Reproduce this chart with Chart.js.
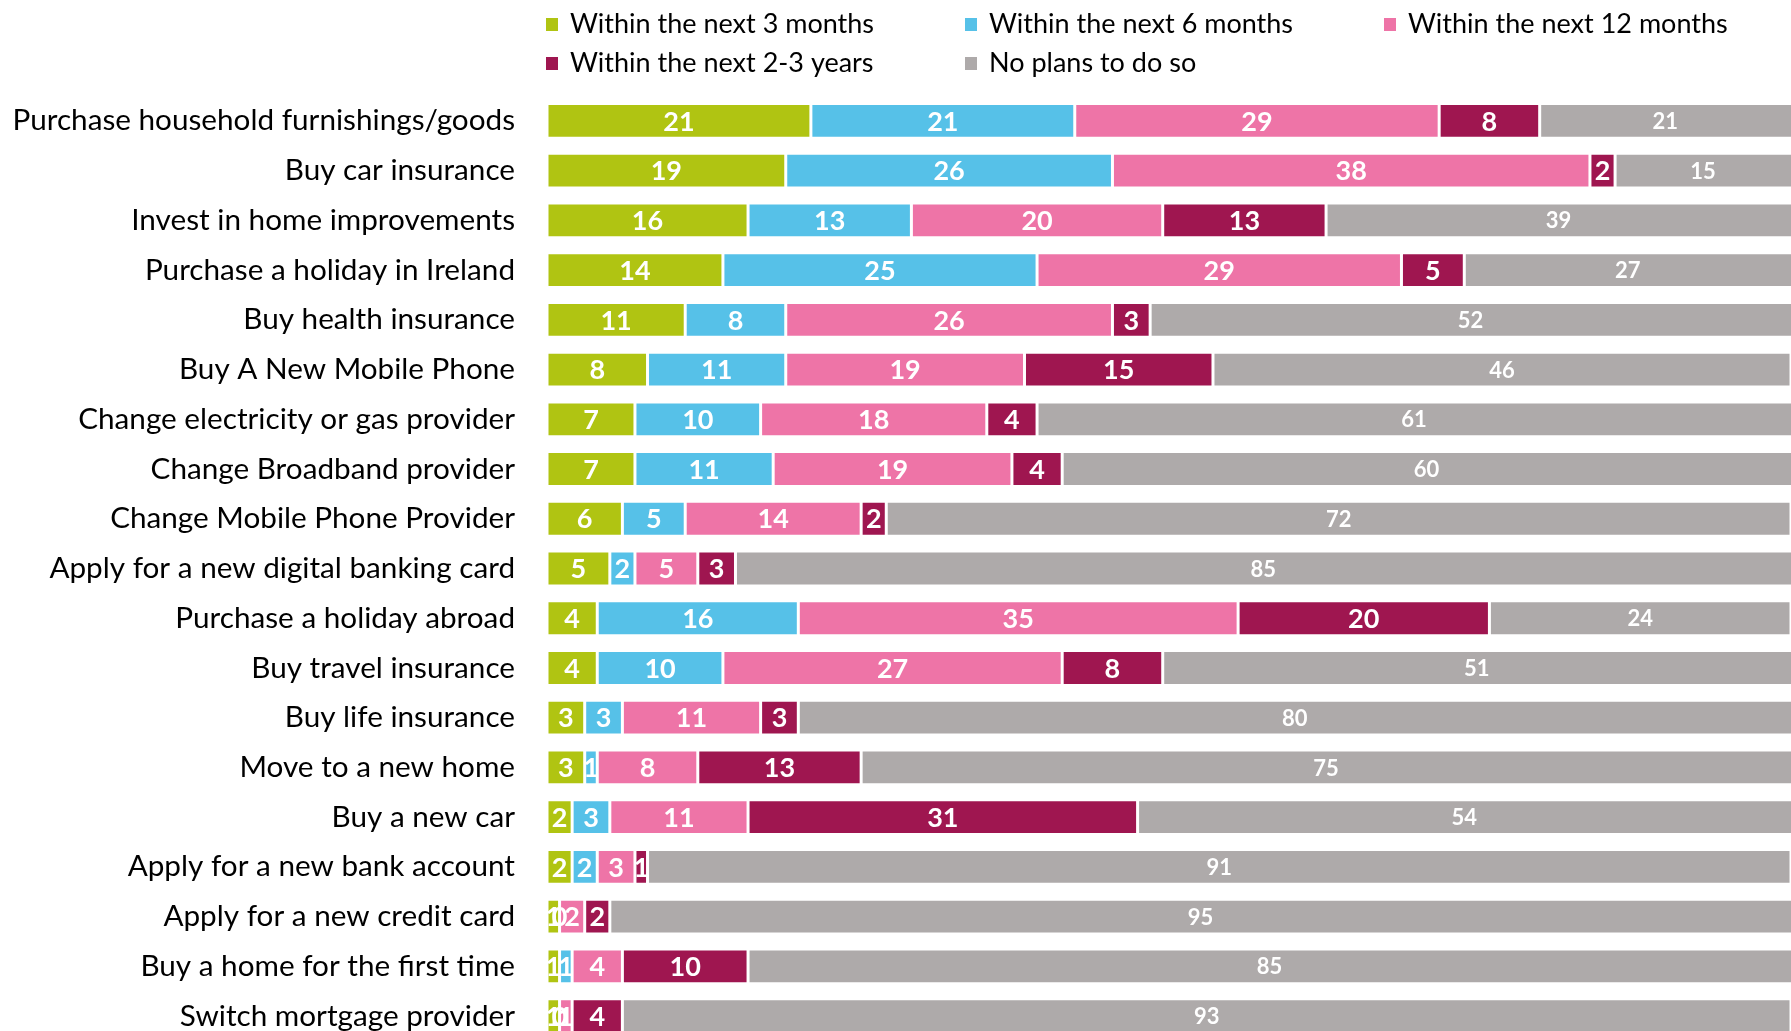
<!DOCTYPE html>
<html>
<head>
<meta charset="utf-8">
<title>Purchase intentions</title>
<script src="https://cdn.jsdelivr.net/npm/chart.js@4/dist/chart.umd.min.js"></script>
<style>
  html, body { margin: 0; padding: 0; background: #fff; overflow: hidden; }
  canvas { display: block; }
</style>
</head>
<body>
<canvas id="chart" width="1791" height="1041"></canvas>
<script>
// Survey items, top to bottom
const categories = [
  'Purchase household furnishings/goods',
  'Buy car insurance',
  'Invest in home improvements',
  'Purchase a holiday in Ireland',
  'Buy health insurance',
  'Buy A New Mobile Phone',
  'Change electricity or gas provider',
  'Change Broadband provider',
  'Change Mobile Phone Provider',
  'Apply for a new digital banking card',
  'Purchase a holiday abroad',
  'Buy travel insurance',
  'Buy life insurance',
  'Move to a new home',
  'Buy a new car',
  'Apply for a new bank account',
  'Apply for a new credit card',
  'Buy a home for the first time',
  'Switch mortgage provider'
];

// Share of respondents (%) per timeframe
const within3Months  = [21, 19, 16, 14, 11,  8,  7,  7,  6,  5,  4,  4,  3,  3,  2,  2,  1,  1,  1];
const within6Months  = [21, 26, 13, 25,  8, 11, 10, 11,  5,  2, 16, 10,  3,  1,  3,  2,  0,  1,  0];
const within12Months = [29, 38, 20, 29, 26, 19, 18, 19, 14,  5, 35, 27, 11,  8, 11,  3,  2,  4,  1];
const within2to3Years = [8,  2, 13,  5,  3, 15,  4,  4,  2,  3, 20,  8,  3, 13, 31,  1,  2, 10,  4];
const noPlans        = [21, 15, 39, 27, 52, 46, 61, 60, 72, 85, 24, 51, 80, 75, 54, 91, 95, 85, 93];

const seriesNames = [
  'Within the next 3 months',
  'Within the next 6 months',
  'Within the next 12 months',
  'Within the next 2-3 years',
  'No plans to do so'
];
const seriesValues = [within3Months, within6Months, within12Months, within2to3Years, noPlans];

// Styling
const palette = ['#b0c412', '#56c1e8', '#ee74a7', '#9f1650', '#aeaaaa'];
const FONT = 'Lato, "Open Sans", sans-serif';

Chart.defaults.font.family = FONT;
Chart.defaults.color = '#000';

// White value labels centred in the visible part of each segment
const segmentLabels = {
  id: 'segmentLabels',
  afterDatasetsDraw(chart) {
    const ctx = chart.ctx;
    const area = chart.chartArea;
    const n = chart.data.datasets.length;
    ctx.save();
    ctx.textAlign = 'center';
    ctx.textBaseline = 'middle';
    ctx.fillStyle = '#ffffff';
    chart.data.datasets.forEach((ds, di) => {
      const meta = chart.getDatasetMeta(di);
      if (meta.hidden) return;
      ctx.font = (di === n - 1 ? 'bold 22px ' : 'bold 27px ') + FONT;
      meta.data.forEach((bar, i) => {
        const lo = Math.min(bar.base, bar.x);
        const hi = Math.min(Math.max(bar.base, bar.x), area.right);
        ctx.fillText(String(ds.data[i]), (lo + hi) / 2, bar.y + 1);
      });
    });
    ctx.restore();
  }
};

// Legend in three columns above the bars
const columnLegend = {
  id: 'columnLegend',
  afterDraw(chart) {
    const ctx = chart.ctx;
    const colX = [546, 965, 1384];
    const rowY = [24.5, 63.5];
    ctx.save();
    ctx.font = '27px ' + FONT;
    ctx.textBaseline = 'middle';
    ctx.textAlign = 'left';
    chart.data.datasets.forEach((ds, i) => {
      const x = colX[i % 3];
      const y = rowY[Math.floor(i / 3)];
      ctx.fillStyle = ds.backgroundColor;
      ctx.fillRect(x, y - 6.5, 12, 13);
      ctx.fillStyle = '#000';
      ctx.fillText(ds.label, x + 24, y);
    });
    ctx.restore();
  }
};

new Chart(document.getElementById('chart'), {
  type: 'bar',
  data: {
    labels: categories,
    datasets: seriesNames.map((name, i) => ({
      label: name,
      data: seriesValues[i],
      backgroundColor: palette[i],
      borderColor: '#ffffff',
      borderWidth: 1.5,
      borderSkipped: false,
      barPercentage: 0.7,
      categoryPercentage: 1
    }))
  },
  options: {
    indexAxis: 'y',
    responsive: false,
    animation: false,
    devicePixelRatio: 1,
    layout: { padding: { top: 96, right: 0, bottom: 0, left: 0 } },
    plugins: {
      legend: { display: false },
      tooltip: { enabled: false }
    },
    scales: {
      x: {
        stacked: true,
        min: 0,
        max: 99,
        display: false
      },
      y: {
        stacked: true,
        grid: { display: false, drawTicks: false },
        border: { display: false },
        ticks: {
          padding: 32,
          color: '#000',
          font: { size: 29.7, family: FONT }
        },
        afterFit(scale) {
          scale.width = 547;
          scale.paddingTop = 0;
          scale.paddingBottom = 0;
        }
      }
    }
  },
  plugins: [segmentLabels, columnLegend]
});
</script>
</body>
</html>
